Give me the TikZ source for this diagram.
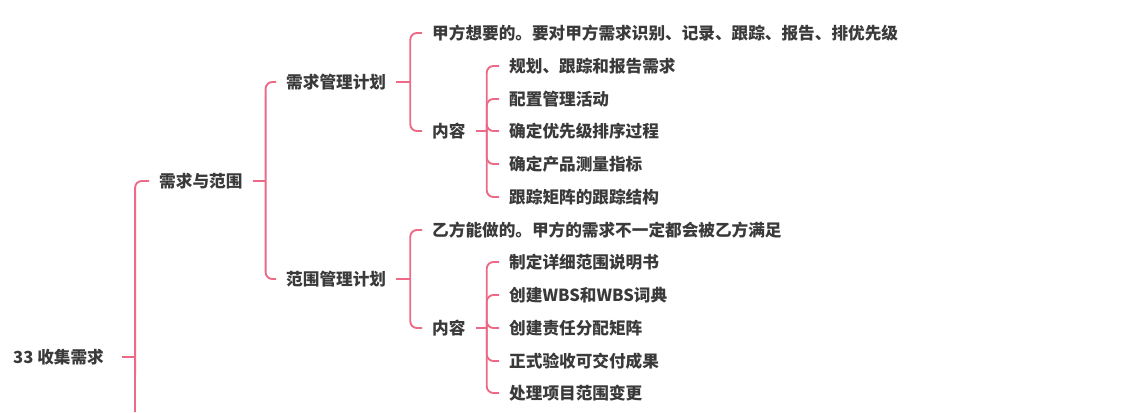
\documentclass[tikz,border=0pt]{standalone}
\usepackage{fontspec}
\usepackage{xcolor}
\usepackage{tikz}
\usetikzlibrary{positioning}
\newfontfamily\cjk{Noto Sans CJK SC}
\definecolor{branch}{RGB}{236,106,134}
\definecolor{ink}{RGB}{58,58,58}

\begin{document}
\begin{tikzpicture}[x=0.03cm, y=-0.03cm,
  t/.style={anchor=west, inner xsep=0.3cm, inner ysep=1pt, text=ink,
  font=\cjk\bfseries\fontsize{14.2}{16}\selectfont},
  link/.style={draw=branch, line width=1.6pt, rounded corners=0.2cm}]
  \useasboundingbox (0,0) rectangle (1133,412);
  \node[t, inner xsep=0.54cm] (root) at (-5,357) {33 收集需求};
  \node[t] (scope) at (149,181) {需求与范围};
  \node[t] (req) at (276,82) {需求管理计划};
  \node[t] (rng) at (276,279) {范围管理计划};
  % 需求管理计划
  \node[t] (reqw) at (422,33) {甲方想要的。要对甲方需求识别、记录、跟踪、报告、排优先级};
  \node[t] (reqc) at (422,131) {内容};
  \node[t] (reqa) at (499,66) {规划、跟踪和报告需求};
  \node[t] (reqb) at (499,99) {配置管理活动};
  \node[t] (reqd) at (499,131) {确定优先级排序过程};
  \node[t] (reqe) at (499,164) {确定产品测量指标};
  \node[t] (reqf) at (499,197) {跟踪矩阵的跟踪结构};
  % 范围管理计划
  \node[t] (rngw) at (422,230) {乙方能做的。甲方的需求不一定都会被乙方满足};
  \node[t] (rngc) at (422,328) {内容};
  \node[t] (rnga) at (499,262) {制定详细范围说明书};
  \node[t] (rngb) at (499,295) {创建WBS和WBS词典};
  \node[t] (rngd) at (499,328) {创建责任分配矩阵};
  \node[t] (rnge) at (499,361) {正式验收可交付成果};
  \node[t] (rngf) at (499,393) {处理项目范围变更};
  \coordinate (more) at (135,412);

  \draw[link] (root.east) -- ++(13,0) coordinate (j0);
  \draw[link] (j0) |- (scope.west);
  \draw[link] (j0) -- (more);
  \draw[link] (scope.east) -- ++(13,0) coordinate (j1);
  \draw[link] (j1) |- (req.west);
  \draw[link] (j1) |- (rng.west);
  \draw[link] (req.east) -- ++(14,0) coordinate (j2);
  \draw[link] (j2) |- (reqw.west);
  \draw[link] (j2) |- (reqc.west);
  \draw[link] (rng.east) -- ++(14,0) coordinate (j3);
  \draw[link] (j3) |- (rngw.west);
  \draw[link] (j3) |- (rngc.west);
  \draw[link] (reqc.east) -- ++(11,0) coordinate (j4);
  \foreach \c in {reqa,reqb,reqd,reqe,reqf}
    \draw[link] (j4) |- (\c.west);
  \draw[link] (rngc.east) -- ++(11,0) coordinate (j5);
  \foreach \c in {rnga,rngb,rngd,rnge,rngf}
    \draw[link] (j5) |- (\c.west);
\end{tikzpicture}
\end{document}
